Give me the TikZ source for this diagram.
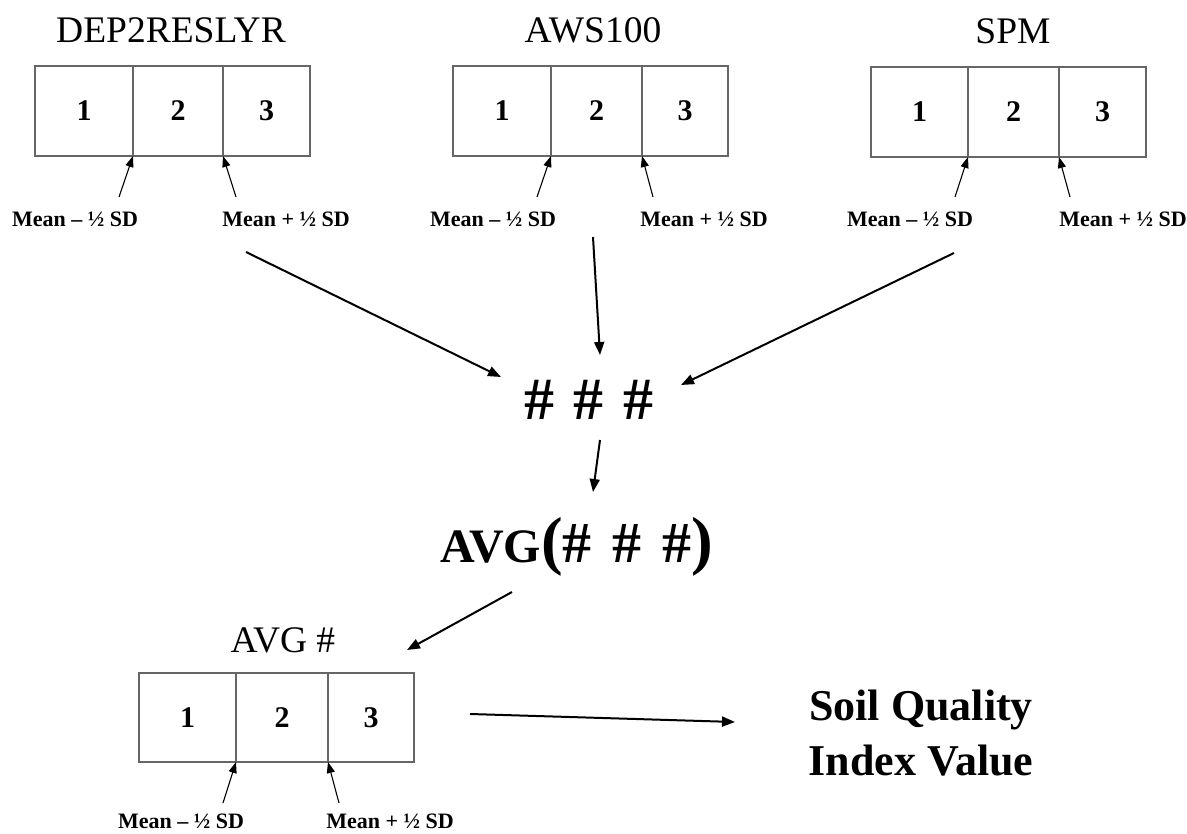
\documentclass[tikz,border=0pt]{standalone}
\usepackage{fontspec}
\setmainfont{Liberation Serif}
\usetikzlibrary{arrows.meta}
\newcommand\setfs[1]{\fontsize{#1}{#1}\selectfont}
\begin{document}
\begin{tikzpicture}[x=1pt,y=-1pt,
  cell/.style={draw=black!60, line width=1.4pt, minimum height=90pt, inner sep=0pt, outer sep=0pt, anchor=north west, font=\bfseries\setfs{30}},
  title/.style={anchor=base, font=\setfs{37.5}},
  lbl/.style={anchor=base, font=\bfseries\setfs{22}},
  sarr/.style={line width=1.1pt, -{Triangle[length=11pt,width=8pt]}},
  barr/.style={line width=2pt, -{Triangle[length=13pt,width=10pt]}}]
\useasboundingbox (0,0) rectangle (1187,834);
% titles
\node[title] (t1) at (171,43) {DEP2RESLYR};
\node[title] (t2) at (593,43) {AWS100};
\node[title] (t3) at (1013,44) {SPM};
\node[title] (t4) at (283,652) {AVG \#};
% boxes
\node[cell, minimum width=98pt] (a1) at (35,66) {1};
\node[cell, minimum width=90pt] (a2) at (133,66) {2};
\node[cell, minimum width=87pt] (a3) at (223,66) {3};
\node[cell, minimum width=98pt] (b1) at (453,66) {1};
\node[cell, minimum width=91pt] (b2) at (551,66) {2};
\node[cell, minimum width=86pt] (b3) at (642,66) {3};
\node[cell, minimum width=97pt] (c1) at (871,67) {1};
\node[cell, minimum width=91pt] (c2) at (968,67) {2};
\node[cell, minimum width=87pt] (c3) at (1059,67) {3};
\node[cell, minimum width=97pt, minimum height=89pt] (d1) at (139,673) {1};
\node[cell, minimum width=92pt, minimum height=89pt] (d2) at (236,673) {2};
\node[cell, minimum width=86pt, minimum height=89pt] (d3) at (328,673) {3};
% labels
\node[lbl] (ma) at (75,227) {Mean – ½ SD};
\node[lbl] (pa) at (286,227) {Mean + ½ SD};
\node[lbl] (mb) at (493,227) {Mean – ½ SD};
\node[lbl] (pb) at (704,227) {Mean + ½ SD};
\node[lbl] (mc) at (910,227) {Mean – ½ SD};
\node[lbl] (pc) at (1123,227) {Mean + ½ SD};
\node[lbl] (md) at (181,828) {Mean – ½ SD};
\node[lbl] (pd) at (390,828) {Mean + ½ SD};
% small arrows
\coordinate (la) at (119,197); \coordinate (ra) at (236,197);
\coordinate (lb) at (537,197); \coordinate (rb) at (653,197);
\coordinate (lc) at (955,197); \coordinate (rc) at (1070,197);
\coordinate (ld) at (223,803); \coordinate (rd) at (339,803);
\draw[sarr] (la) -- (a1.south east);
\draw[sarr] (ra) -- (a2.south east);
\draw[sarr] (lb) -- (b1.south east);
\draw[sarr] (rb) -- (b2.south east);
\draw[sarr] (lc) -- (c1.south east);
\draw[sarr] (rc) -- (c2.south east);
\draw[sarr] (ld) -- (d1.south east);
\draw[sarr] (rd) -- (d2.south east);
% central texts
\node[anchor=base, font=\bfseries\setfs{60}] (hash) at (589,420) {\#\hspace{20pt}\#\hspace{20pt}\#};
\node[anchor=base, font=\bfseries] (avg) at (577,562) {\setfs{48}AVG\setfs{65}(\setfs{58}\#\hspace{21pt}\#\hspace{21pt}\#\setfs{65})};
\node[align=center, font=\bfseries\fontsize{44}{55}\selectfont] (soil) at (921,733) {Soil Quality\\Index Value};
% big arrows
\coordinate (s1) at (246,252); \coordinate (e1) at (501,377);
\coordinate (s2) at (593,237); \coordinate (e2) at (600,355);
\coordinate (s3) at (954,253); \coordinate (e3) at (681,385);
\coordinate (s4) at (600,440); \coordinate (e4) at (593,492);
\coordinate (s5) at (512,592); \coordinate (e5) at (407,650);
\coordinate (s6) at (470,714); \coordinate (e6) at (735,722);
\draw[barr] (s1) -- (e1);
\draw[barr] (s2) -- (e2);
\draw[barr] (s3) -- (e3);
\draw[barr] (s4) -- (e4);
\draw[barr] (s5) -- (e5);
\draw[barr] (s6) -- (e6);
\end{tikzpicture}
\end{document}
